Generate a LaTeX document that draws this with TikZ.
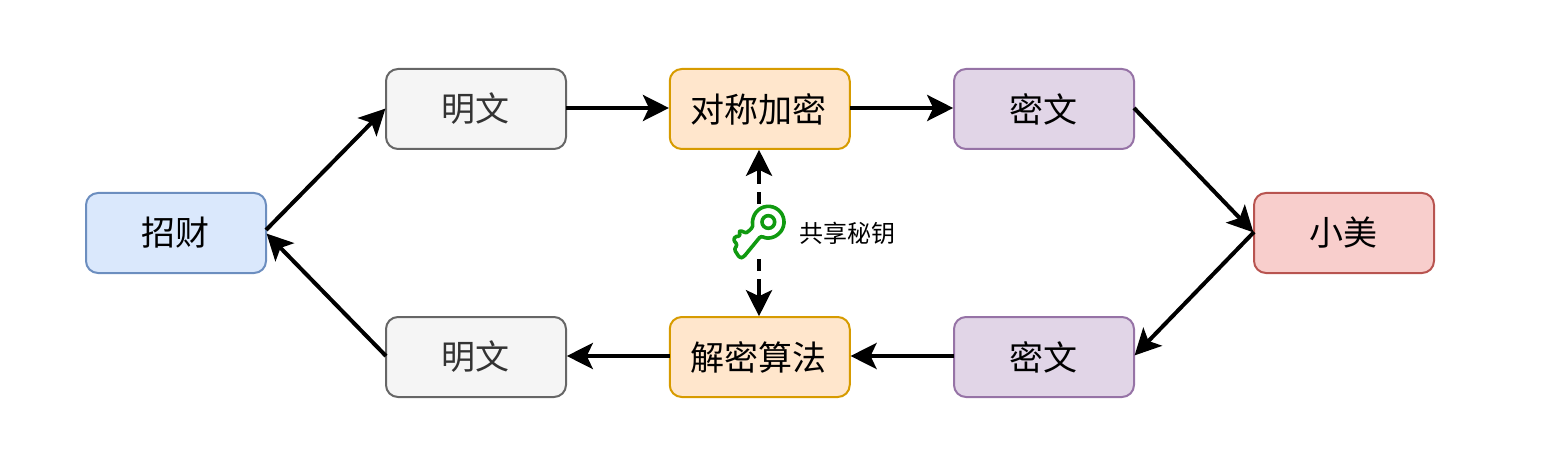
\documentclass[tikz,border=0pt]{standalone}
\usepackage{fontspec}
\setmainfont{Noto Sans CJK SC}
\usetikzlibrary{arrows.meta}
\definecolor{c666}{HTML}{666666}\definecolor{cF5}{HTML}{F5F5F5}\definecolor{c333}{HTML}{333333}
\definecolor{c6C8EBF}{HTML}{6C8EBF}\definecolor{cDAE8FC}{HTML}{DAE8FC}
\definecolor{cD79B00}{HTML}{D79B00}\definecolor{cFFE6CC}{HTML}{FFE6CC}
\definecolor{c9673A6}{HTML}{9673A6}\definecolor{cE1D5E7}{HTML}{E1D5E7}
\definecolor{cB85450}{HTML}{B85450}\definecolor{cF8CECC}{HTML}{F8CECC}
\definecolor{keygreen}{HTML}{109A10}
\newcommand\boxtext[1]{\raisebox{-1.5pt}{#1\kern2pt}}
\tikzset{
  x=1pt,y=-1pt,
  box/.style={draw,line width=2pt,rounded corners=12pt,minimum width=180pt,minimum height=80pt,inner sep=0pt,outer sep=0pt,font=\fontsize{34}{34}\selectfont,text=black},
  gray box/.style={box,draw=c666,fill=cF5,text=c333},
  blue box/.style={box,draw=c6C8EBF,fill=cDAE8FC},
  orange box/.style={box,draw=cD79B00,fill=cFFE6CC},
  purple box/.style={box,draw=c9673A6,fill=cE1D5E7},
  red box/.style={box,draw=cB85450,fill=cF8CECC},
  conn/.style={line width=4pt,-{Stealth[length=26pt,width=26pt,inset=6pt]},shorten >=0.8pt},
  dconn/.style={conn,dash pattern=on 12pt off 8pt on 40pt},
}
\begin{document}
\begin{tikzpicture}
\useasboundingbox (0,0) rectangle (1554,462);
\node[blue box] (zc) at (176,233) {\boxtext{招财}};
\node[gray box] (m1) at (476,109) {\boxtext{明文}};
\node[orange box] (enc) at (759.75,109) {\boxtext{对称加密}};
\node[purple box] (c1) at (1044,109) {\boxtext{密文}};
\node[red box] (xm) at (1344,233) {\boxtext{小美}};
\node[purple box] (c2) at (1044,357) {\boxtext{密文}};
\node[orange box] (dec) at (759.75,357) {\boxtext{解密算法}};
\node[gray box] (m2) at (476,357) {\boxtext{明文}};
\node[font=\fontsize{24}{24}\selectfont,inner sep=0pt] (share) at (847,233) {共享秘钥};
\coordinate (kt) at (759,204);
\coordinate (kb) at (759,259);
\draw[conn] ([yshift=3pt]zc.east) -- ([yshift=1pt]m1.west);
\draw[conn] ([yshift=1pt]m1.east) -- ([yshift=1pt]enc.west);
\draw[conn] ([yshift=1pt]enc.east) -- ([yshift=1pt]c1.west);
\draw[conn] ([yshift=1pt]c1.east) -- (xm.west);
\draw[conn] ([yshift=1pt]xm.west) -- ([yshift=1pt]c2.east);
\draw[conn] ([yshift=1pt]c2.west) -- ([yshift=1pt]dec.east);
\draw[conn] ([yshift=1pt]dec.west) -- ([yshift=1pt]m2.east);
\draw[conn] ([yshift=1pt]m2.west) -- (zc.east);
\draw[dconn] (kt) -- (enc.south -| kt);
\draw[dconn] (kb) -- (dec.north -| kb);
\begin{scope}[shift={(725,198)},x=0.3333pt,y=-0.3333pt]
\draw[keygreen,line width=3.6pt,line join=round,rounded corners=2.5pt]
  (108,113.5) arc[start angle=118,end angle=-196,radius=47]
  -- (70,101) -- (60,106) -- (48,96) -- (41,104) -- (47,116) -- (34,113) -- (24,125) -- (38,141) -- (27,153) -- (44,180) -- (55,178) -- cycle;
\draw[keygreen,line width=3.6pt] (130,72) circle[radius=19];
\end{scope}
\end{tikzpicture}
\end{document}
